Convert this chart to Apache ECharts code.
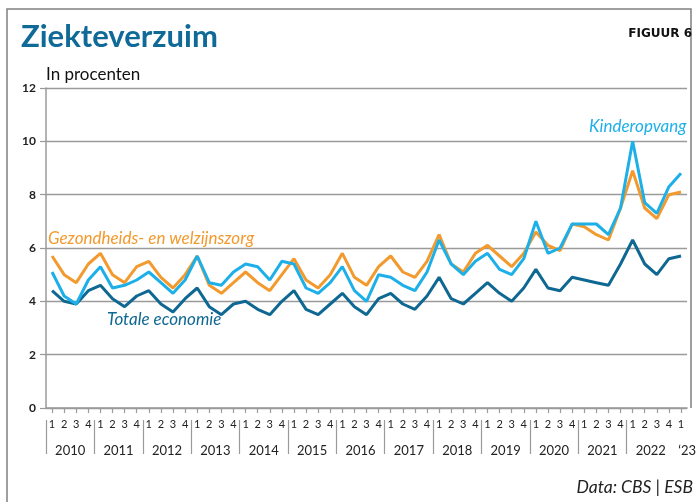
<!DOCTYPE html>
<html>
<head>
<meta charset="utf-8">
<script src="https://cdn.jsdelivr.net/npm/echarts@6/dist/echarts.min.js"></script>
<style>
  html, body { margin: 0; padding: 0; background: #fff; }
  #chart { width: 699px; height: 502px; }
</style>
</head>
<body>
<div id="chart"></div>
<script>
// quarters 2010Q1 .. 2023Q1
var quarters = [];
for (var y = 2010; y <= 2022; y++) {
  quarters.push("1", "2", "3", "4");
}
quarters.push("1");

var yearLabels = ["2010", "2011", "2012", "2013", "2014", "2015", "2016",
  "2017", "2018", "2019", "2020", "2021", "2022", "\u201823"];

var totaleEconomie = [
  4.4, 4.0, 3.9, 4.4, 4.6, 4.1, 3.8, 4.2, 4.4, 3.9, 3.6, 4.1,
  4.5, 3.8, 3.5, 3.9, 4.0, 3.7, 3.5, 4.0, 4.4, 3.7, 3.5, 3.9,
  4.3, 3.8, 3.5, 4.1, 4.3, 3.9, 3.7, 4.2, 4.9, 4.1, 3.9, 4.3,
  4.7, 4.3, 4.0, 4.5, 5.2, 4.5, 4.4, 4.9, 4.8, 4.7, 4.6, 5.4,
  6.3, 5.4, 5.0, 5.6, 5.7
];

var gezondheidszorg = [
  5.7, 5.0, 4.7, 5.4, 5.8, 5.0, 4.7, 5.3, 5.5, 4.9, 4.5, 5.0,
  5.7, 4.6, 4.3, 4.7, 5.1, 4.7, 4.4, 5.0, 5.6, 4.8, 4.5, 5.0,
  5.8, 4.9, 4.6, 5.3, 5.7, 5.1, 4.9, 5.5, 6.5, 5.4, 5.1, 5.8,
  6.1, 5.7, 5.3, 5.8, 6.6, 6.1, 5.9, 6.9, 6.8, 6.5, 6.3, 7.5,
  8.9, 7.5, 7.1, 8.0, 8.1
];

var kinderopvang = [
  5.1, 4.2, 3.9, 4.8, 5.3, 4.5, 4.6, 4.8, 5.1, 4.7, 4.3, 4.8,
  5.7, 4.7, 4.6, 5.1, 5.4, 5.3, 4.8, 5.5, 5.4, 4.5, 4.3, 4.7,
  5.3, 4.4, 4.0, 5.0, 4.9, 4.6, 4.4, 5.1, 6.3, 5.4, 5.0, 5.5,
  5.8, 5.2, 5.0, 5.6, 7.0, 5.8, 6.0, 6.9, 6.9, 6.9, 6.5, 7.5,
  10.0, 7.7, 7.3, 8.3, 8.8
];

// year separators and year label positions on a 0..53 value scale
var yearSeparators = [];
var yearLabelPos = [];
for (var k = 0; k < 13; k++) {
  yearSeparators.push(k * 4);
  yearLabelPos.push(k * 4 + 2);
}
yearLabelPos.push(53);

var blueDark = "#0f6892";
var blueLight = "#1db0e8";
var orange = "#f29a2e";
var gray = "#9a9a9a";
var font = "Lato";

var myChart = echarts.init(document.getElementById("chart"));
var option = {
  animation: false,
  textStyle: { fontFamily: font },
  grid: { left: 46, right: 9, top: 88, bottom: 94 },
  title: [
    {
      text: "Ziekteverzuim",
      left: 21,
      top: 21,
      padding: 0,
      textStyle: { fontFamily: font, fontSize: 31, fontWeight: "bold", color: "#0f6a98" },
    },
    {
      text: "FIGUUR 6",
      right: 7,
      top: 28,
      padding: 0,
      textStyle: { fontFamily: "DejaVu Sans", fontSize: 12, fontWeight: "bold", color: "#111" },
    },
    {
      text: "In procenten",
      left: 46,
      top: 66,
      padding: 0,
      textStyle: { fontFamily: font, fontSize: 17, fontWeight: "normal", color: "#111" },
    },
    {
      text: "Data: CBS | ESB",
      right: 6,
      top: 478,
      padding: 0,
      textStyle: { fontFamily: font, fontSize: 17.5, fontStyle: "italic", fontWeight: "normal", color: "#222" },
    },
  ],
  graphic: [
    {
      type: "polyline",
      shape: { points: [[691, 408], [691, 9], [7, 9], [7, 502]] },
      style: { stroke: "#808080", lineWidth: 1.5, fill: null },
      silent: true,
    },
    {
      type: "text",
      left: 48,
      top: 230,
      style: { text: "Gezondheids- en welzijnszorg", fill: orange, font: "italic 17px Lato" },
    },
    {
      type: "text",
      left: 107,
      top: 311,
      style: { text: "Totale economie", fill: blueDark, font: "italic 17px Lato" },
    },
    {
      type: "text",
      left: 589,
      top: 118,
      style: { text: "Kinderopvang", fill: blueLight, font: "italic 17px Lato" },
    },
  ],
  xAxis: [
    {
      type: "category",
      data: quarters,
      boundaryGap: true,
      axisLine: { lineStyle: { color: gray, width: 1.5 } },
      axisTick: { show: true, alignWithLabel: true, interval: 0, length: 5, lineStyle: { color: gray, width: 1.2 } },
      axisLabel: { interval: 0, margin: 11, fontSize: 11, color: "#222", fontFamily: font },
      splitLine: { show: false },
    },
    {
      type: "value",
      min: 0,
      max: 53,
      position: "bottom",
      offset: 12,
      axisLine: { show: false },
      axisTick: {
        show: true,
        customValues: yearSeparators,
        length: 34,
        lineStyle: { color: gray, width: 1.2 },
      },
      axisLabel: {
        customValues: yearLabelPos,
        margin: 24,
        fontSize: 13,
        color: "#222",
        fontFamily: font,
        formatter: function (v) {
          if (v >= 52) return yearLabels[13];
          return yearLabels[(v - 2) / 4];
        },
      },
      splitLine: { show: false },
    },
  ],
  yAxis: {
    type: "value",
    min: 0,
    max: 12,
    interval: 2,
    axisLine: { show: true, lineStyle: { color: gray, width: 1.5 } },
    axisTick: { show: true, length: 6, lineStyle: { color: gray, width: 1.2 } },
    axisLabel: { margin: 10, fontSize: 12, color: "#222", fontFamily: font, fontWeight: "bold" },
    splitLine: { lineStyle: { color: gray, width: 1.3 } },
  },
  series: [
    {
      name: "Totale economie",
      type: "line",
      data: totaleEconomie,
      symbol: "none",
      lineStyle: { color: blueDark, width: 3 },
      itemStyle: { color: blueDark },
    },
    {
      name: "Gezondheids- en welzijnszorg",
      type: "line",
      data: gezondheidszorg,
      symbol: "none",
      lineStyle: { color: orange, width: 3 },
      itemStyle: { color: orange },
    },
    {
      name: "Kinderopvang",
      type: "line",
      data: kinderopvang,
      symbol: "none",
      lineStyle: { color: blueLight, width: 3 },
      itemStyle: { color: blueLight },
    },
  ],
};
myChart.setOption(option);
</script>
</body>
</html>
